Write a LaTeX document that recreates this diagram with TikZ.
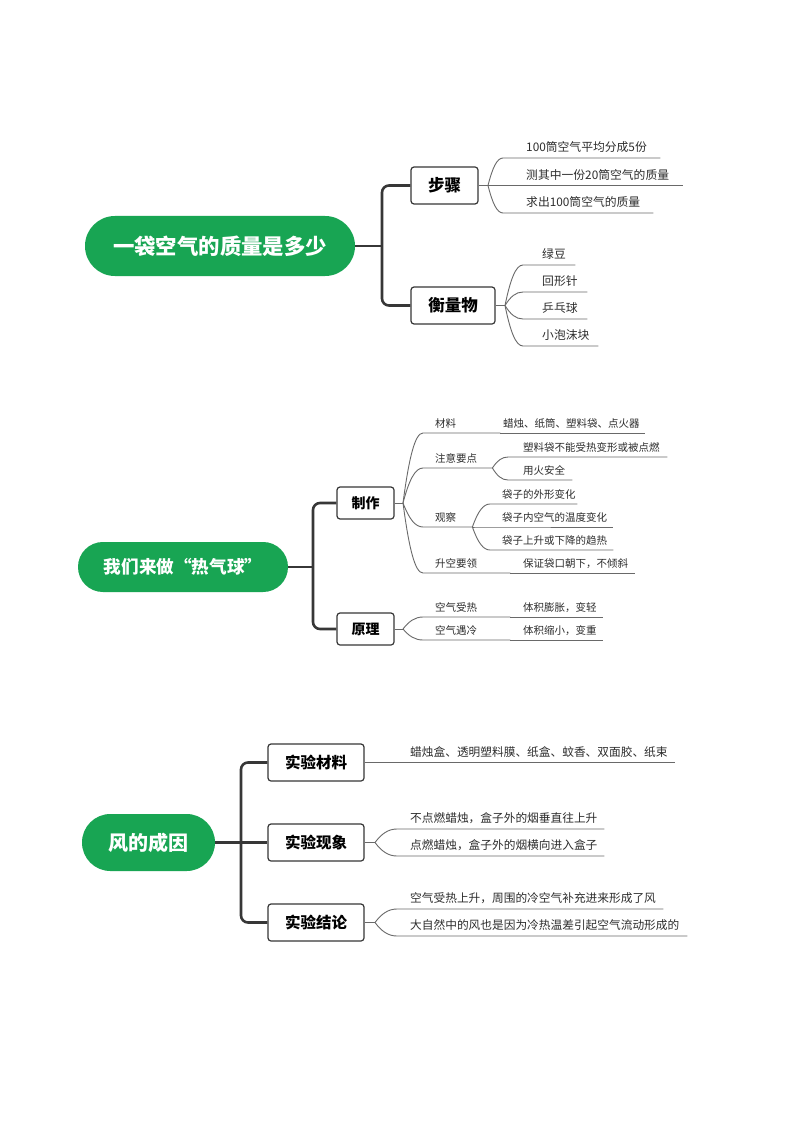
\documentclass[tikz,border=0pt]{standalone}
\usepackage{fontspec}
\setmainfont{Noto Sans CJK SC}
\usetikzlibrary{calc}
\definecolor{mmgreen}{RGB}{24,165,83}
\definecolor{linegray}{RGB}{105,105,105}
\definecolor{dark}{RGB}{55,55,55}
\definecolor{txt}{RGB}{45,45,45}
\newcommand\leafnode[7]{%
  \pgfmathsetmacro\lfw{#4-#2}%
  \node[leafbox,#6,anchor=south west] (#1) at (#2,#3) {\makebox[\lfw pt][l]{\hspace*{#5pt}#7}};}
\newcommand\branch[2]{%
  \draw[leafline] let \p1=(#1), \p2=(#2.south west) in (\p1) .. controls ({\x1+0.3*(\x2-\x1)},{\y1+0.65*(\y2-\y1)}) and ({\x1+0.6*(\x2-\x1)},{\y2}) .. (\p2) -- (#2.south east);}
\begin{document}
\begin{tikzpicture}[x=1pt,y=-1pt,
  pill/.style={fill=mmgreen, text=white, inner sep=0pt},
  topbox/.style={draw=dark, line width=1.2pt, rounded corners=3pt, fill=white, text=black, inner sep=0pt, minimum height=37},
  trunk/.style={draw=dark, line width=2.6pt, rounded corners=7pt},
  leafline/.style={draw=linegray, line width=0.9pt},
  leafbox/.style={inner xsep=0pt, text depth=0pt, text=txt},
  lfa/.style={font=\fontsize{11.8}{12}\selectfont, inner ysep=6pt},
  lfb/.style={font=\fontsize{10.5}{11}\selectfont, inner ysep=5pt},
  lfc/.style={font=\fontsize{11.7}{12}\selectfont, inner ysep=6pt}]
\fill[white] (0,0) rectangle (794,1123);
\useasboundingbox (0,0) rectangle (794,1123);

% ---------- Section 1 ----------
\node[pill, minimum width=270, minimum height=60, rounded corners=29.9pt, font=\bfseries\fontsize{21.4}{22}\selectfont] (r1) at (220,246) {一袋空气的质量是多少};
\node[topbox, minimum width=67, font=\bfseries\fontsize{16.5}{17}\selectfont] (b11) at (444.5,185.5) {步骤};
\node[topbox, minimum width=84, font=\bfseries\fontsize{16.5}{17}\selectfont] (b12) at (453,305.5) {衡量物};
\coordinate (t1) at (382,246);
\draw[trunk] (r1.east) -- (t1);
\draw[trunk] (b11.west) -| (t1) |- (b12.west);

\coordinate (f11) at (488,185.5);
\draw[leafline] (b11.east) -- (f11);
\leafnode{s1}{503}{158}{660}{23}{lfa}{100筒空气平均分成5份}
\leafnode{s2}{503}{185.5}{683}{23}{lfa}{测其中一份20筒空气的质量}
\leafnode{s3}{503}{213}{653}{23}{lfa}{求出100筒空气的质量}
\branch{f11}{s1}
\branch{f11}{s2}
\branch{f11}{s3}

\coordinate (f12) at (505,305.5);
\draw[leafline] (b12.east) -- (f12);
\leafnode{m1}{523}{265}{575}{19}{lfa}{绿豆}
\leafnode{m2}{523}{292}{587}{19}{lfa}{回形针}
\leafnode{m3}{523}{319}{587}{19}{lfa}{乒乓球}
\leafnode{m4}{523}{346}{598}{19}{lfa}{小泡沫块}
\branch{f12}{m1}
\branch{f12}{m2}
\branch{f12}{m3}
\branch{f12}{m4}

% ---------- Section 2 ----------
\node[pill, minimum width=210, minimum height=50, rounded corners=24.9pt, font=\bfseries\fontsize{17.6}{18}\selectfont] (r2) at (183,567) {我们来做“热气球”};
\node[topbox, minimum width=57, minimum height=32, font=\bfseries\fontsize{14}{14}\selectfont] (b21) at (365.5,503) {制作};
\node[topbox, minimum width=57, minimum height=32, font=\bfseries\fontsize{14}{14}\selectfont] (b22) at (365.5,629) {原理};
\coordinate (t2) at (313,567);
\draw[trunk] (r2.east) -- (t2);
\draw[trunk] (b21.west) -| (t2) |- (b22.west);

\coordinate (f21) at (403,503);
\draw[leafline] (b21.east) -- (f21);
\leafnode{a1}{423}{433}{500}{12}{lfb}{材料}
\leafnode{a1c}{500}{433}{645}{3}{lfb}{蜡烛、纸筒、塑料袋、点火器}
\leafnode{a2}{423}{468}{492}{12}{lfb}{注意要点}
\leafnode{a21}{508}{457}{667}{15}{lfb}{塑料袋不能受热变形或被点燃}
\leafnode{a22}{508}{480}{572}{15}{lfb}{用火安全}
\leafnode{a3}{423}{527}{472}{12}{lfb}{观察}
\leafnode{a31}{490}{504}{577}{12}{lfb}{袋子的外形变化}
\leafnode{a32}{490}{527}{613}{12}{lfb}{袋子内空气的温度变化}
\leafnode{a33}{490}{550}{613}{12}{lfb}{袋子上升或下降的趋热}
\leafnode{a4}{423}{573}{510}{12}{lfb}{升空要领}
\leafnode{a4c}{510}{573}{635}{13}{lfb}{保证袋口朝下，不倾斜}
\branch{f21}{a1}
\branch{f21}{a2}
\branch{f21}{a3}
\branch{f21}{a4}
\draw[leafline] (a1.south east) -- (a1c.south east);
\draw[leafline] (a4.south east) -- (a4c.south east);
\branch{a2.south east}{a21}
\branch{a2.south east}{a22}
\branch{a3.south east}{a31}
\branch{a3.south east}{a32}
\branch{a3.south east}{a33}

\coordinate (f22) at (403,629);
\draw[leafline] (b22.east) -- (f22);
\leafnode{p1}{423}{617}{510}{12}{lfb}{空气受热}
\leafnode{p1c}{510}{617}{603}{13}{lfb}{体积膨胀，变轻}
\leafnode{p2}{423}{640}{510}{12}{lfb}{空气遇冷}
\leafnode{p2c}{510}{640}{603}{13}{lfb}{体积缩小，变重}
\branch{f22}{p1}
\branch{f22}{p2}
\draw[leafline] (p1.south east) -- (p1c.south east);
\draw[leafline] (p2.south east) -- (p2c.south east);

% ---------- Section 3 ----------
\node[pill, minimum width=133, minimum height=57, rounded corners=28.4pt, font=\bfseries\fontsize{20}{20}\selectfont] (r3) at (148.5,842.5) {风的成因};
\node[topbox, minimum width=96, font=\bfseries\fontsize{15.5}{16}\selectfont] (c1) at (316,762.5) {实验材料};
\node[topbox, minimum width=96, font=\bfseries\fontsize{15.5}{16}\selectfont] (c2) at (316,842.5) {实验现象};
\node[topbox, minimum width=96, font=\bfseries\fontsize{15.5}{16}\selectfont] (c3) at (316,922.5) {实验结论};
\coordinate (t3) at (241,842.5);
\draw[trunk] (r3.east) -- (c2.west);
\draw[trunk] (c1.west) -| (t3) |- (c3.west);

\leafnode{e1}{397}{762.5}{675}{13}{lfc}{蜡烛盒、透明塑料膜、纸盒、蚊香、双面胶、纸束}
\draw[leafline] (c1.east) -- (e1.south east);

\coordinate (f32) at (375,842.5);
\draw[leafline] (c2.east) -- (f32);
\leafnode{e21}{397}{829}{604}{13}{lfc}{不点燃蜡烛，盒子外的烟垂直往上升}
\leafnode{e22}{397}{856}{604}{13}{lfc}{点燃蜡烛，盒子外的烟横向进入盒子}
\branch{f32}{e21}
\branch{f32}{e22}

\coordinate (f33) at (375,922.5);
\draw[leafline] (c3.east) -- (f33);
\leafnode{e31}{397}{909}{663}{13}{lfc}{空气受热上升，周围的冷空气补充进来形成了风}
\leafnode{e32}{397}{936}{687}{13}{lfc}{大自然中的风也是因为冷热温差引起空气流动形成的}
\branch{f33}{e31}
\branch{f33}{e32}
\end{tikzpicture}
\end{document}
